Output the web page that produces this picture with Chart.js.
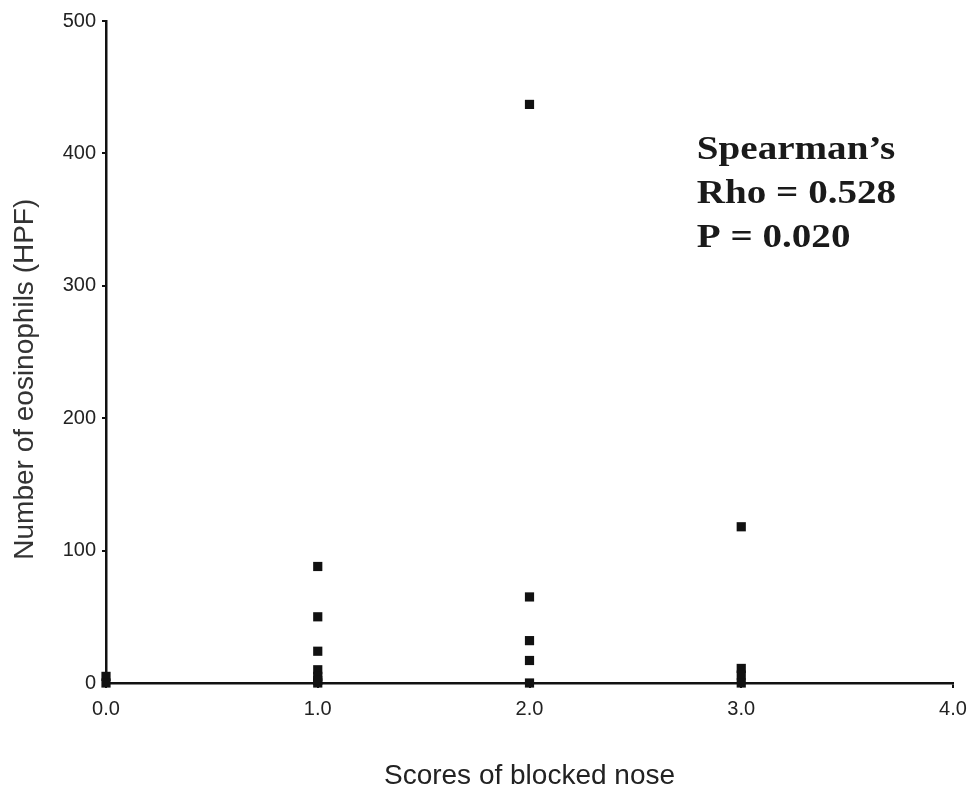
<!DOCTYPE html>
<html>
<head>
<meta charset="utf-8">
<script src="https://cdn.jsdelivr.net/npm/chart.js@4"></script>
<style>
  html, body { margin: 0; padding: 0; background: #fff; }
  #wrap { width: 970px; height: 793px; position: relative; }
</style>
</head>
<body>
<div id="wrap"><canvas id="myChart" width="970" height="793"></canvas></div>
<script>
// blocked nose score vs eosinophil count
const scores = [0, 0, 1, 1, 1, 1, 1, 1, 1, 2, 2, 2, 2, 2, 3, 3, 3, 3];
const eosinophils = [5, 0, 88, 50, 24, 10, 5, 0, 2, 437, 65, 32, 17, 0, 118, 11, 6, 0];
const xTicks = [0, 1, 2, 3, 4];
const yTicks = [0, 100, 200, 300, 400, 500];
const statLines = ["Spearman\u2019s", "Rho = 0.528", "P = 0.020"];

const points = scores.map((s, i) => ({ x: s, y: eosinophils[i] }));

const statsText = {
    id: "statsText",
    afterDatasetsDraw(chart) {
        const ctx = chart.ctx;
        const x = chart.scales.x.getPixelForValue(2.79);
        const y0 = chart.scales.y.getPixelForValue(396);
        ctx.save();
        ctx.fillStyle = "#1a1a1a";
        ctx.font = "bold 34px 'Liberation Serif', 'Times New Roman', serif";
        ctx.textBaseline = "alphabetic";
        // the printed text is a little wider than plain Times bold
        ctx.translate(x, y0);
        ctx.scale(1.15, 1);
        statLines.forEach((t, i) => ctx.fillText(t, 0, i * 44));
        ctx.restore();
    }
};

const tickFont = { family: "'Liberation Sans', Arial, sans-serif", size: 20 };
const titleFont = { family: "'Liberation Sans', Arial, sans-serif", size: 28 };

new Chart(document.getElementById("myChart").getContext("2d"), {
    type: "scatter",
    data: {
        datasets: [{
            data: points,
            backgroundColor: "#111",
            borderColor: "#111",
            pointStyle: "rect",
            pointRadius: 6.5,
            borderWidth: 0,
            clip: false
        }]
    },
    options: {
        responsive: false,
        animation: false,
        layout: { padding: { top: 21, right: 17, left: 0, bottom: 0 } },
        plugins: {
            legend: { display: false },
            tooltip: { enabled: false }
        },
        scales: {
            x: {
                type: "linear",
                min: 0,
                max: 4,
                afterBuildTicks(scale) { scale.ticks = xTicks.map(v => ({ value: v })); },
                afterFit(scale) {
                    scale.height = 110;
                    scale.paddingLeft = 0;
                    scale.paddingRight = 0;
                },
                border: { color: "#111", width: 2.5 },
                grid: { drawOnChartArea: false, tickLength: 5, color: "#111", lineWidth: 2 },
                ticks: {
                    color: "#222",
                    font: tickFont,
                    padding: 9,
                    callback: v => v.toFixed(1)
                },
                title: {
                    display: true,
                    text: "Scores of blocked nose",
                    color: "#222",
                    font: titleFont,
                    padding: { top: 4, bottom: 0 }
                }
            },
            y: {
                min: 0,
                max: 500,
                afterBuildTicks(scale) { scale.ticks = yTicks.map(v => ({ value: v })); },
                afterFit(scale) {
                    scale.width = 106;
                    scale.paddingTop = 0;
                    scale.paddingBottom = 0;
                },
                border: { color: "#111", width: 2.5 },
                grid: { drawOnChartArea: false, tickLength: 4, color: "#111", lineWidth: 2 },
                ticks: {
                    color: "#222",
                    font: tickFont,
                    padding: 6
                },
                title: {
                    display: true,
                    // trailing spaces push the label down along the axis, as in the original
                    text: "Number of eosinophils (HPF)       ",
                    color: "#333",
                    font: titleFont,
                    padding: { top: 8, bottom: 0 }
                }
            }
        }
    },
    plugins: [statsText]
});
</script>
</body>
</html>
